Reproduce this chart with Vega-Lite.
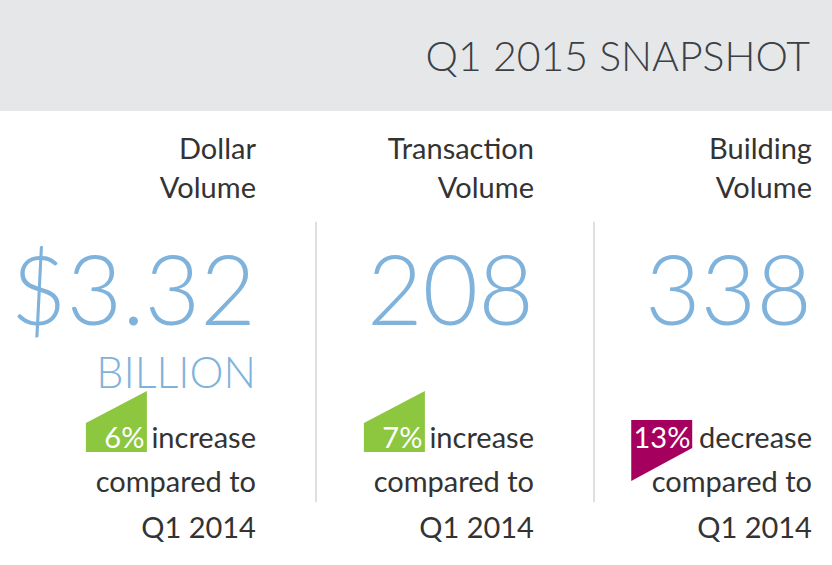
{
  "$schema": "https://vega.github.io/schema/vega-lite/v6.json",
  "padding": 0,
  "spacing": 0,
  "background": "white",
  "config": {"view": {"stroke": null}, "concat": {"spacing": 0}},
  "datasets": {
    "header": [{"title": "Q1 2015 SNAPSHOT"}],
    "snapshot": [
      {"metric": "Dollar Volume", "value": "$3.32", "unit": "BILLION", "change": "6%", "direction": "increase", "period": "Q1 2014"},
      {"metric": "Transaction Volume", "value": "208", "unit": "", "change": "7%", "direction": "increase", "period": "Q1 2014"},
      {"metric": "Building Volume", "value": "338", "unit": "", "change": "13%", "direction": "decrease", "period": "Q1 2014"}
    ]
  },
  "vconcat": [
    {
      "width": 832,
      "height": 111,
      "view": {"fill": "#E6E7E8", "stroke": null},
      "data": {"name": "header"},
      "mark": {"type": "text", "align": "right", "baseline": "alphabetic", "font": "Lato", "fontWeight": 300, "fontSize": 41, "color": "#3B4045", "dx": -22, "dy": -40},
      "encoding": {
        "x": {"value": "width"},
        "y": {"value": "height"},
        "text": {"field": "title"}
      }
    },
    {
      "width": 832,
      "height": 454,
      "data": {"name": "snapshot"},
      "layer": [
        {
          "transform": [{"filter": "datum.metric != 'Dollar Volume'"}],
          "mark": {"type": "rule", "color": "#D5D5D5", "strokeWidth": 1.5, "yOffset": -13, "y2Offset": -36},
          "encoding": {
            "x": {"field": "metric", "type": "nominal", "sort": null, "bandPosition": 0, "axis": null,
                  "scale": {"type": "band", "domain": ["Dollar Volume", "Transaction Volume", "Building Volume"], "range": [38, 872], "paddingInner": 0, "paddingOuter": 0}},
            "y": {"datum": "value", "type": "nominal", "axis": null,
                  "scale": {"type": "point", "domain": ["heading", "value", "unit", "change", "compare", "period"], "range": [48, 427], "padding": 0}},
            "y2": {"datum": "period"}
          }
        },
        {
          "mark": {"type": "text", "align": "right", "baseline": "alphabetic", "font": "Lato", "fontSize": 29, "color": "#333333", "lineBreak": " ", "lineHeight": 39},
          "encoding": {
            "x": {"field": "metric", "type": "nominal", "sort": null, "bandPosition": 0.784, "axis": null},
            "y": {"datum": "heading", "type": "nominal", "axis": null},
            "text": {"field": "metric"}
          }
        },
        {
          "mark": {"type": "text", "align": "right", "baseline": "alphabetic", "font": "Lato", "fontSize": 96, "fontWeight": 300, "color": "#80B3DC", "dy": 90},
          "encoding": {
            "x": {"field": "metric", "type": "nominal", "sort": null, "bandPosition": 0.784, "axis": null},
            "y": {"datum": "value", "type": "nominal", "axis": null},
            "text": {"field": "value"}
          }
        },
        {
          "mark": {"type": "text", "align": "right", "baseline": "alphabetic", "font": "Lato", "fontSize": 43, "fontWeight": 300, "color": "#80B3DC", "dy": 77},
          "encoding": {
            "x": {"field": "metric", "type": "nominal", "sort": null, "bandPosition": 0.784, "axis": null},
            "y": {"datum": "unit", "type": "nominal", "axis": null},
            "text": {"field": "unit"}
          }
        },
        {
          "mark": {"type": "point", "filled": true, "size": 3721, "opacity": 1, "strokeWidth": 0, "yOffset": 35.1},
          "encoding": {
            "x": {"field": "metric", "type": "nominal", "sort": null, "bandPosition": 0.282, "axis": null},
            "y": {"datum": "change", "type": "nominal", "axis": null},
            "shape": {"field": "direction", "type": "nominal", "legend": null,
                      "scale": {"domain": ["increase", "decrease"], "range": ["M-1,0.05L1,-1L1,1L-1,1Z", "M-1.35,-0.05L0.65,-0.05L0.65,0.87L-1.35,1.95Z"]}},
            "color": {"field": "direction", "type": "nominal", "legend": null,
                      "scale": {"domain": ["increase", "decrease"], "range": ["#8DC63F", "#A6005F"]}}
          }
        },
        {
          "transform": [{"filter": "datum.direction == 'increase'"}],
          "mark": {"type": "text", "align": "right", "baseline": "alphabetic", "font": "Lato", "fontSize": 29, "color": "white", "dx": 28, "dy": 62},
          "encoding": {
            "x": {"field": "metric", "type": "nominal", "sort": null, "bandPosition": 0.282, "axis": null},
            "y": {"datum": "change", "type": "nominal", "axis": null},
            "text": {"field": "change"}
          }
        },
        {
          "transform": [{"filter": "datum.direction == 'decrease'"}],
          "mark": {"type": "text", "align": "right", "baseline": "alphabetic", "font": "Lato", "fontSize": 29, "color": "white", "dx": 18, "dy": 62},
          "encoding": {
            "x": {"field": "metric", "type": "nominal", "sort": null, "bandPosition": 0.282, "axis": null},
            "y": {"datum": "change", "type": "nominal", "axis": null},
            "text": {"field": "change"}
          }
        },
        {
          "mark": {"type": "text", "align": "right", "baseline": "alphabetic", "font": "Lato", "fontSize": 29, "color": "#333333", "dy": 62},
          "encoding": {
            "x": {"field": "metric", "type": "nominal", "sort": null, "bandPosition": 0.784, "axis": null},
            "y": {"datum": "change", "type": "nominal", "axis": null},
            "text": {"field": "direction"}
          }
        },
        {
          "mark": {"type": "text", "align": "right", "baseline": "alphabetic", "font": "Lato", "fontSize": 29, "color": "#333333", "dy": 30},
          "encoding": {
            "x": {"field": "metric", "type": "nominal", "sort": null, "bandPosition": 0.784, "axis": null},
            "y": {"datum": "compare", "type": "nominal", "axis": null},
            "text": {"value": "compared to"}
          }
        },
        {
          "mark": {"type": "text", "align": "right", "baseline": "alphabetic", "font": "Lato", "fontSize": 29, "color": "#333333"},
          "encoding": {
            "x": {"field": "metric", "type": "nominal", "sort": null, "bandPosition": 0.784, "axis": null},
            "y": {"datum": "period", "type": "nominal", "axis": null},
            "text": {"field": "period"}
          }
        }
      ]
    }
  ]
}
